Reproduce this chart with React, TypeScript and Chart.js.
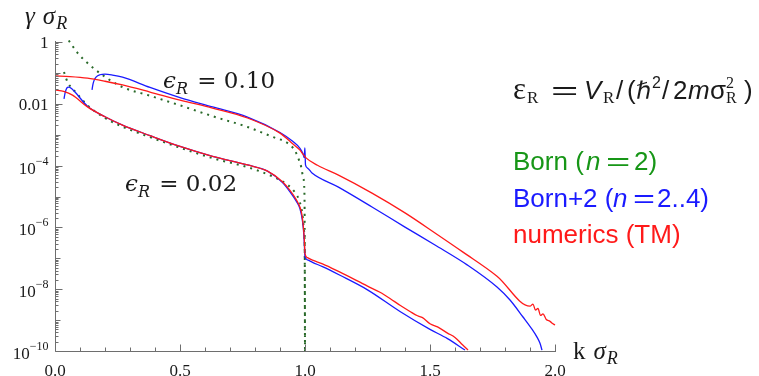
import React, { useEffect, useRef } from 'react';
import { Chart, registerables } from 'chart.js';
Chart.register(...registerables);

// ---------- data: k·σR  vs  log10(γ·σR) ----------
// ε_R = 0.10
const kBorn10 = [0.055, 0.09, 0.13, 0.19, 0.27, 0.38, 0.5, 0.63, 0.77, 0.87, 0.93, 0.96, 0.975, 0.985, 0.993, 0.998, 1.0];
const logBorn10 = [0.05, -0.35, -0.68, -1.07, -1.46, -1.74, -2.05, -2.4, -2.75, -3.07, -3.27, -3.52, -3.8, -4.05, -4.4, -5.0, -10];

const kBorn2_10 = [0.148, 0.151, 0.156, 0.165, 0.18, 0.2, 0.23, 0.27, 0.38, 0.5, 0.63, 0.77, 0.9, 0.952, 0.98, 0.992, 0.997, 0.9995, 1.002, 1.01, 1.028, 1.132, 1.268, 1.4, 1.52, 1.65, 1.768, 1.82, 1.872, 1.91, 1.928, 1.94, 1.948];
const logBorn2_10 = [-1.55, -1.4, -1.25, -1.13, -1.06, -1.04, -1.07, -1.14, -1.47, -1.8, -2.1, -2.43, -2.93, -3.22, -3.44, -3.62, -3.74, -3.43, -3.98, -4.08, -4.24, -4.69, -5.34, -5.99, -6.57, -7.22, -7.93, -8.35, -8.9, -9.32, -9.55, -9.75, -9.97];

const kTM10 = [0, 0.06, 0.13, 0.2, 0.27, 0.38, 0.5, 0.63, 0.77, 0.9, 0.952, 0.98, 0.992, 1.004, 1.05, 1.132, 1.268, 1.4, 1.52, 1.632, 1.768, 1.9, 1.912, 1.922, 1.932, 1.942, 1.952, 1.965, 1.98, 1.992, 2.0];
const logTM10 = [-1.1, -1.12, -1.17, -1.27, -1.39, -1.62, -1.88, -2.14, -2.46, -2.95, -3.3, -3.5, -3.63, -3.75, -3.99, -4.3, -4.89, -5.53, -6.18, -6.8, -7.58, -8.55, -8.48, -8.68, -8.62, -8.85, -8.8, -8.98, -9.04, -9.12, -9.16];

// ε_R = 0.02
const kBorn02 = [0.036, 0.044, 0.052, 0.065, 0.08, 0.13, 0.2, 0.27, 0.38, 0.5, 0.63, 0.77, 0.87, 0.93, 0.96, 0.98, 0.99, 0.996, 0.999, 1.0];
const logBorn02 = [-0.97, -1.17, -1.33, -1.47, -1.6, -2.05, -2.46, -2.74, -3.08, -3.42, -3.76, -4.05, -4.35, -4.62, -4.87, -5.2, -5.6, -6.1, -6.8, -10];

const kBorn2_02 = [0.036, 0.04, 0.045, 0.05, 0.056, 0.065, 0.08, 0.13, 0.2, 0.27, 0.38, 0.5, 0.63, 0.77, 0.85, 0.91, 0.94, 0.965, 0.98, 0.99, 0.996, 1.0, 1.01, 1.03, 1.07, 1.14, 1.25, 1.38, 1.5, 1.57, 1.64];
const logBorn2_02 = [-1.84, -1.66, -1.53, -1.47, -1.46, -1.5, -1.62, -2.08, -2.42, -2.69, -3.03, -3.38, -3.7, -3.98, -4.18, -4.55, -4.85, -5.15, -5.4, -5.8, -6.3, -6.95, -7.05, -7.13, -7.27, -7.55, -8.02, -8.72, -9.3, -9.6, -9.97];

const kTM02 = [0, 0.035, 0.07, 0.13, 0.2, 0.27, 0.38, 0.5, 0.63, 0.77, 0.85, 0.91, 0.94, 0.965, 0.98, 0.988, 0.993, 0.997, 1.0, 1.01, 1.03, 1.07, 1.14, 1.25, 1.3, 1.34, 1.38, 1.42, 1.45, 1.47, 1.5, 1.53, 1.57, 1.6, 1.63, 1.652];
const logTM02 = [-1.55, -1.6, -1.72, -2.1, -2.42, -2.69, -3.03, -3.38, -3.7, -3.98, -4.18, -4.52, -4.8, -5.1, -5.35, -5.6, -5.95, -6.35, -6.85, -6.98, -7.06, -7.18, -7.45, -7.9, -8.1, -8.3, -8.52, -8.72, -8.86, -8.92, -9.12, -9.22, -9.42, -9.56, -9.8, -9.97];

// ---------- axes ----------
const xTickValues = [0, 0.5, 1.0, 1.5, 2.0];
const xTickLabels = ['0.0', '0.5', '1.0', '1.5', '2.0'];
const yTickValues = [1, 1e-2, 1e-4, 1e-6, 1e-8, 1e-10];
const yTickBases = ['1', '0.01', '10', '10', '10', '10'];
const yTickExps = ['', '', '\u22124', '\u22126', '\u22128', '\u221210'];

const W = 759, H = 376;
const RED = '#ff1a1a', BLUE = '#1a1aff', GREEN_LINE = '#2a6a2a', GREEN_TEXT = '#179617';
const AXIS = '#6e6e6e', TXT = '#1a1a1a';

const toPts = (ks: number[], logs: number[]) => ks.map((k, i) => ({ x: k, y: Math.pow(10, logs[i]) }));

type Run = { t: string; font: string; x?: number; dy?: number; dx?: number; sx?: number; stack?: { sup: string; sub: string; font: string; up: number; down: number } };

function drawRuns(ctx: CanvasRenderingContext2D, x: number, base: number, runs: Run[], color: string) {
  ctx.textAlign = 'left';
  ctx.textBaseline = 'alphabetic';
  ctx.fillStyle = color;
  for (const r of runs) {
    if (r.x !== undefined) x = r.x;
    if (r.stack) {
      ctx.font = r.stack.font;
      ctx.fillText(r.stack.sup, x, base - r.stack.up);
      ctx.fillText(r.stack.sub, x, base + r.stack.down);
      x += Math.max(ctx.measureText(r.stack.sup).width, ctx.measureText(r.stack.sub).width) + (r.dx || 0);
      continue;
    }
    ctx.font = r.font;
    const sx = r.sx || 1;
    if (sx !== 1) {
      ctx.save();
      ctx.translate(x, base + (r.dy || 0));
      ctx.scale(sx, 1);
      ctx.fillText(r.t, 0, 0);
      ctx.restore();
    } else {
      ctx.fillText(r.t, x, base + (r.dy || 0));
    }
    x += ctx.measureText(r.t).width * sx + (r.dx || 0);
  }
  return x;
}

const decor = {
  id: 'decor',
  afterDraw(chart: any) {
    const ctx: CanvasRenderingContext2D = chart.ctx;
    const xs = chart.scales.x, ys = chart.scales.y;
    const x0 = Math.round(xs.getPixelForValue(0)) + 0.5;
    const x2 = xs.getPixelForValue(2);
    const yTop = ys.getPixelForValue(1);
    const yBot = Math.round(ys.getPixelForValue(1e-10)) + 0.5;
    ctx.save();
    ctx.strokeStyle = AXIS;
    ctx.lineWidth = 1;
    ctx.beginPath();
    ctx.moveTo(x0, yTop - 1);
    ctx.lineTo(x0, yBot);
    ctx.lineTo(x2 + 1, yBot);
    ctx.stroke();
    // x ticks
    ctx.beginPath();
    for (let i = 0; i <= 20; i++) {
      const px = Math.round(xs.getPixelForValue(i / 10)) + 0.5;
      const len = i % 5 === 0 ? 7 : 4;
      ctx.moveTo(px, yBot);
      ctx.lineTo(px, yBot - len);
    }
    // y ticks
    for (let e = 0; e >= -10; e--) {
      const py = Math.round(ys.getPixelForValue(Math.pow(10, e))) + 0.5;
      const len = e % 2 === 0 ? 7 : 5;
      ctx.moveTo(x0, py);
      ctx.lineTo(x0 + len, py);
      if (e > -10) {
        for (let m = 2; m <= 9; m++) {
          const pm = Math.round(ys.getPixelForValue(m * Math.pow(10, e - 1))) + 0.5;
          ctx.moveTo(x0, pm);
          ctx.lineTo(x0 + 3, pm);
        }
      }
    }
    ctx.stroke();

    // tick labels
    ctx.fillStyle = TXT;
    ctx.font = '17px "Liberation Serif"';
    ctx.textAlign = 'center';
    ctx.textBaseline = 'alphabetic';
    xTickValues.forEach((v, i) => {
      ctx.fillText(xTickLabels[i], xs.getPixelForValue(v), yBot + 24);
    });
    yTickValues.forEach((v, i) => {
      const py = ys.getPixelForValue(v);
      const right = x0 - 7;
      ctx.textAlign = 'left';
      if (yTickExps[i]) {
        ctx.font = '12px "Liberation Serif"';
        const we = ctx.measureText(yTickExps[i]).width;
        ctx.font = '17px "Liberation Serif"';
        const wb = ctx.measureText(yTickBases[i]).width;
        ctx.fillText(yTickBases[i], right - we - wb, py + 8);
        ctx.font = '12px "Liberation Serif"';
        ctx.fillText(yTickExps[i], right - we, py - 1);
      } else {
        ctx.font = '17px "Liberation Serif"';
        const wb = ctx.measureText(yTickBases[i]).width;
        ctx.fillText(yTickBases[i], right - wb, py + 6);
      }
    });

    // axis titles
    drawRuns(ctx, 25, 24, [
      { t: '\u03b3', font: 'italic 25px "Liberation Serif"', dx: 8 },
      { t: '\u03c3', font: 'italic 25px "Liberation Serif"', dx: 1 },
      { t: 'R', font: 'italic 18px "Liberation Serif"', dy: 5 },
    ], TXT);
    drawRuns(ctx, 573, 359, [
      { t: 'k', font: '25px "Liberation Serif"', dx: 8 },
      { t: '\u03c3', font: 'italic 25px "Liberation Serif"', dx: 1 },
      { t: 'R', font: 'italic 18px "Liberation Serif"', dy: 5 },
    ], TXT);

    // curve annotations
    drawRuns(ctx, 163, 88, [
      { t: '\u03f5', font: 'italic 23px "DejaVu Serif"' },
      { t: 'R', font: 'italic 16px "DejaVu Serif"', dy: 6, dx: 2 },
      { t: ' = 0.10', font: '23px "DejaVu Serif"' },
    ], TXT);
    drawRuns(ctx, 125, 191, [
      { t: '\u03f5', font: 'italic 23px "DejaVu Serif"' },
      { t: 'R', font: 'italic 16px "DejaVu Serif"', dy: 6, dx: 2 },
      { t: ' = 0.02', font: '23px "DejaVu Serif"' },
    ], TXT);

    // formula
    const fs = '26px "Liberation Sans"', fi = 'italic 26px "Liberation Sans"';
    drawRuns(ctx, 513, 99, [
      { t: '\u03b5', font: '31px "Liberation Serif"', x: 513 },
      { t: 'R', font: '17px "Liberation Serif"', dy: 4, x: 527 },
      { t: '=', font: fs, sx: 1.8, x: 551 },
      { t: 'V', font: fi, x: 584 },
      { t: 'R', font: '17px "Liberation Serif"', dy: 4, x: 603 },
      { t: '/', font: fs, x: 616 },
      { t: '(', font: fs, x: 627 },
      { t: '\u210f', font: 'italic 24px "DejaVu Sans"', x: 636 },
      { t: '2', font: '16px "Liberation Sans"', dy: -11, x: 652 },
      { t: '/', font: fs, x: 662 },
      { t: '2', font: fs, x: 673 },
      { t: 'm', font: fi, x: 688 },
      { t: '\u03c3', font: fs, x: 710 },
      { t: '', font: '', stack: { sup: '2', sub: 'R', font: '16px "Liberation Serif"', up: 11, down: 4 }, x: 726 },
      { t: ')', font: fs, x: 744 },
    ], TXT);

    // legend
    const lf = '26px "Liberation Sans"', lfi = 'italic 26px "Liberation Sans"';
    drawRuns(ctx, 513, 170, [
      { t: 'Born (', font: lf },
      { t: 'n', font: lfi, x: 586 },
      { t: '=', font: lf, sx: 1.6, x: 606 },
      { t: '2)', font: lf, x: 634 },
    ], GREEN_TEXT);
    drawRuns(ctx, 513, 207, [
      { t: 'Born+2 (', font: lf },
      { t: 'n', font: lfi, x: 613 },
      { t: '=', font: lf, sx: 1.45, x: 633 },
      { t: '2..4)', font: lf, x: 657 },
    ], BLUE);
    drawRuns(ctx, 513, 243, [{ t: 'numerics (TM)', font: lf }], RED);
    ctx.restore();
  },
};

export default function App() {
  const ref = useRef<HTMLCanvasElement>(null);
  useEffect(() => {
    const line = (data: any, color: string, dashed = false) => ({
      data,
      borderColor: color,
      borderWidth: dashed ? 2 : 1.3,
      borderDash: dashed ? [2, 5] : [],
      pointRadius: 0,
      fill: false,
      cubicInterpolationMode: 'monotone' as const,
      clip: dashed ? 6 : 1,
    });
    const chart = new Chart(ref.current!, {
      type: 'line',
      data: {
        datasets: [
          line(toPts(kTM02, logTM02), RED),
          line(toPts(kTM10, logTM10), RED),
          line(toPts(kBorn2_02, logBorn2_02), BLUE),
          line(toPts(kBorn2_10, logBorn2_10), BLUE),
          line(toPts(kBorn02, logBorn02), GREEN_LINE, true),
          line(toPts(kBorn10, logBorn10), GREEN_LINE, true),
        ],
      },
      options: {
        responsive: false,
        animation: false,
        parsing: true,
        layout: { padding: { left: 55, right: 204, top: 42, bottom: 25 } },
        plugins: { legend: { display: false }, tooltip: { enabled: false } },
        scales: {
          x: { type: 'linear', min: 0, max: 2, display: false },
          y: { type: 'logarithmic', min: 1e-10, max: 1, display: false },
        },
      },
      plugins: [decor],
    });
    return () => chart.destroy();
  }, []);
  return (
    <div style={{ position: 'fixed', left: 0, top: 0, width: W, height: H, background: '#fff' }}>
      <canvas ref={ref} width={W} height={H} style={{ display: 'block', width: W, height: H }} />
    </div>
  );
}
